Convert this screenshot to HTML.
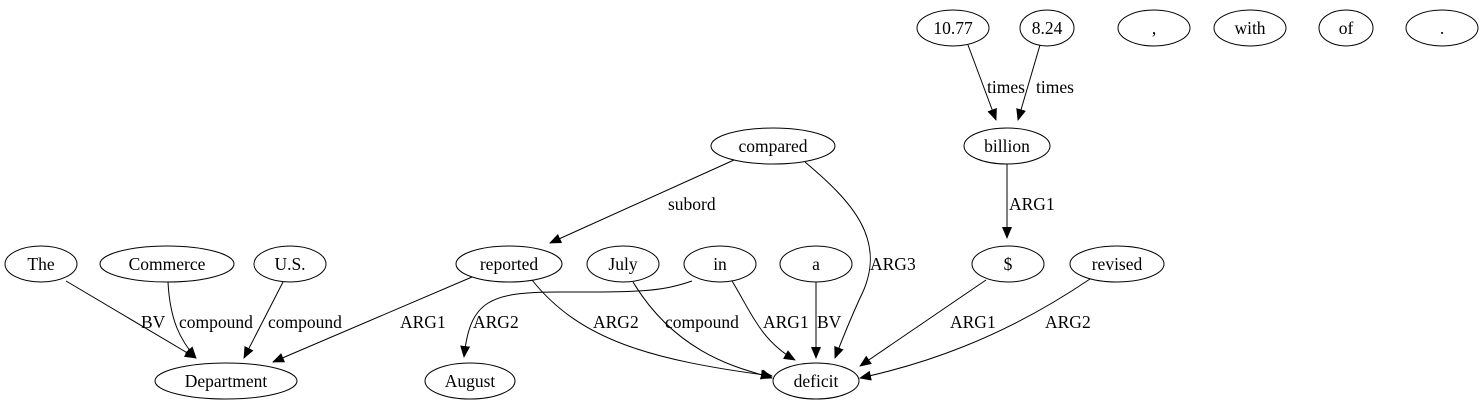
<!DOCTYPE html>
<html><head><style>body{margin:0;background:#fff}svg{display:block}text{font-family:"Liberation Serif",serif;font-size:17.5px}</style></head><body>
<svg width="1484" height="411" viewBox="0 0 1484 411" xmlns="http://www.w3.org/2000/svg">
<defs><marker id="a" markerWidth="12" markerHeight="10" refX="11" refY="5" orient="auto" markerUnits="userSpaceOnUse"><path d="M0,0 L12,5 L0,10 z" fill="#000"/></marker></defs>
<g fill="none" stroke="#000" stroke-width="1">
<ellipse cx="953" cy="28" rx="36" ry="18"/><ellipse cx="1047" cy="28" rx="27" ry="18"/><ellipse cx="1154" cy="28" rx="36" ry="18"/><ellipse cx="1250" cy="28" rx="36" ry="18"/><ellipse cx="1346" cy="28" rx="27" ry="18"/><ellipse cx="1442" cy="28" rx="36" ry="18"/>
<ellipse cx="773" cy="146" rx="62" ry="18"/><ellipse cx="1007" cy="146" rx="43" ry="18"/>
<ellipse cx="41" cy="264" rx="36" ry="18"/><ellipse cx="167" cy="264" rx="67" ry="18"/><ellipse cx="290" cy="264" rx="36" ry="18"/><ellipse cx="509" cy="264" rx="53" ry="18"/><ellipse cx="623" cy="264" rx="36" ry="18"/><ellipse cx="720" cy="264" rx="36" ry="18"/><ellipse cx="816" cy="264" rx="36" ry="18"/><ellipse cx="1008" cy="264" rx="36" ry="18"/><ellipse cx="1117" cy="264" rx="47" ry="18"/>
<ellipse cx="226" cy="381" rx="71" ry="18"/><ellipse cx="470" cy="381" rx="45" ry="18"/><ellipse cx="816" cy="381" rx="43" ry="18"/>
</g>
<g fill="none" stroke="#000" marker-end="url(#a)">
<path d="M968,45 L996,120"/>
<path d="M1040,45 L1018,120"/>
<path d="M1007,164 L1007,238"/>
<path d="M734,160 L550,243"/>
<path d="M805,162 C850,200 890,240 860,298 C850,320 840,345 835,358"/>
<path d="M66,281 L196,358"/>
<path d="M168,282 C170,320 180,340 196,358"/>
<path d="M283,282 L244,358"/>
<path d="M472,277 L273,362"/>
<path d="M692,281 C660,292 640,292 560,292 C490,292 470,300 464,357"/>
<path d="M532,280 C580,340 650,360 772,376"/>
<path d="M633,282 C680,360 750,370 772,378"/>
<path d="M732,281 C750,310 760,340 795,360"/>
<path d="M816,282 L816,358"/>
<path d="M986,280 L860,366"/>
<path d="M1090,279 C1000,340 920,365 860,378"/>
</g>
<g text-anchor="middle">
<text x="953" y="34">10.77</text><text x="1047" y="34">8.24</text><text x="1154" y="34">,</text><text x="1250" y="34">with</text><text x="1346" y="34">of</text><text x="1442" y="34">.</text>
<text x="773" y="152">compared</text><text x="1007" y="152">billion</text>
<text x="41" y="270">The</text><text x="167" y="270">Commerce</text><text x="290" y="270">U.S.</text><text x="509" y="270">reported</text><text x="623" y="270">July</text><text x="720" y="270">in</text><text x="816" y="270">a</text><text x="1008" y="270">$</text><text x="1117" y="270">revised</text>
<text x="226" y="387">Department</text><text x="470" y="387">August</text><text x="816" y="387">deficit</text>
</g>
<g>
<text x="987" y="93">times</text><text x="1036" y="93">times</text>
<text x="1009" y="210">ARG1</text>
<text x="668" y="210">subord</text>
<text x="870" y="270">ARG3</text>
<text x="141" y="328">BV</text><text x="179" y="328">compound</text><text x="268" y="328">compound</text>
<text x="400" y="328">ARG1</text><text x="473" y="328">ARG2</text><text x="593" y="328">ARG2</text><text x="665" y="328">compound</text><text x="763" y="328">ARG1</text><text x="817" y="328">BV</text>
<text x="950" y="328">ARG1</text><text x="1045" y="328">ARG2</text>
</g>
</svg>
</body></html>
